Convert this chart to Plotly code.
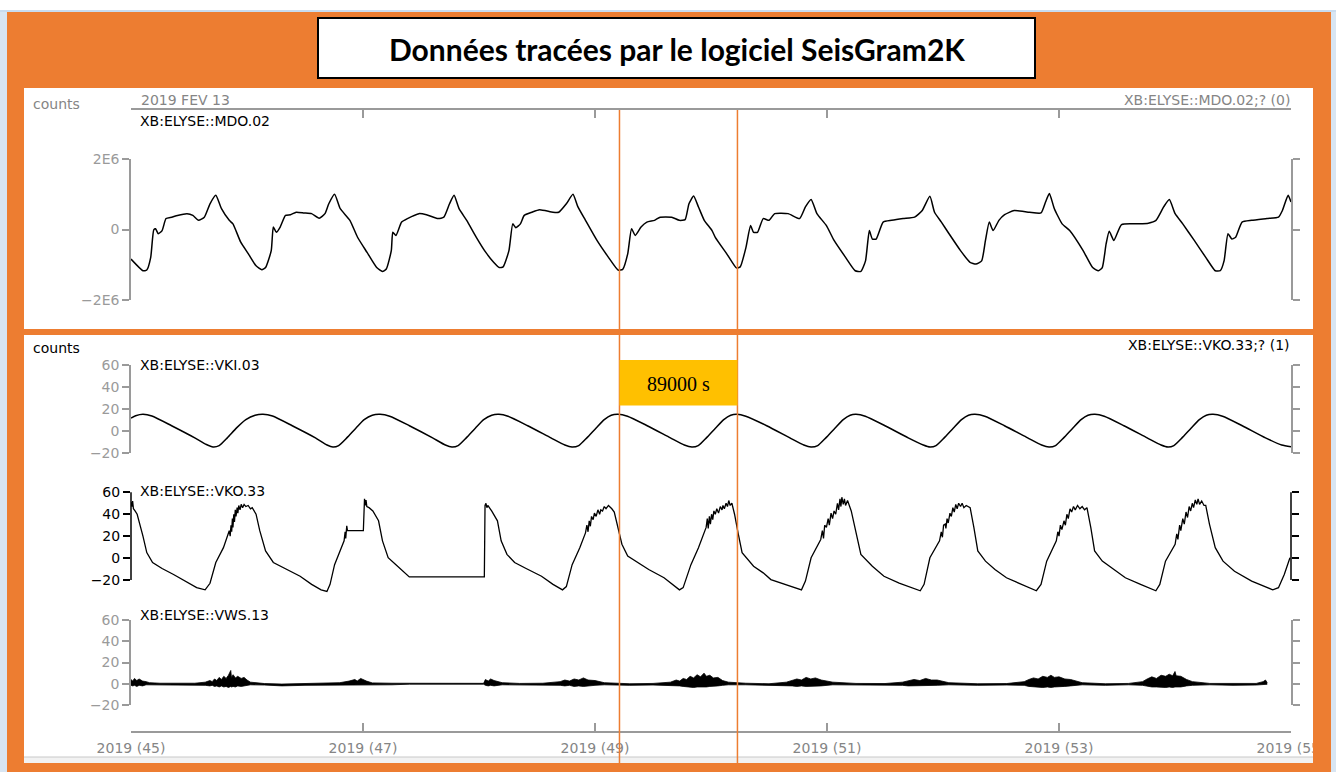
import plotly.graph_objects as go

# ---------------- DATA ----------------
# time axis: day of year 2019
day_ticks = [45, 47, 49, 51, 53, 55]
day_tick_labels = ["2019 (45)", "2019 (47)", "2019 (49)", "2019 (51)", "2019 (53)", "2019 (55)"]

# XB:ELYSE::MDO.02  (values in millions of counts)
mdo_t = [45.000, 45.103, 45.136, 45.170, 45.196, 45.212, 45.235, 45.268, 45.302, 45.351, 45.401, 45.483, 45.533,
         45.582, 45.632, 45.681, 45.731, 45.780, 45.847, 45.879, 45.946, 46.012, 46.078, 46.128, 46.160, 46.209,
         46.227, 46.253, 46.286, 46.332, 46.375, 46.424, 46.491, 46.557, 46.622, 46.672, 46.705, 46.755, 46.804,
         46.887, 46.953, 47.035, 47.118, 47.168, 47.201, 47.244, 47.257, 47.284, 47.333, 47.383, 47.482, 47.547,
         47.647, 47.697, 47.746, 47.785, 47.828, 47.894, 47.977, 48.059, 48.126, 48.175, 48.208, 48.258, 48.291,
         48.317, 48.357, 48.390, 48.456, 48.522, 48.638, 48.687, 48.753, 48.810, 48.853, 48.918, 49.017, 49.116,
         49.199, 49.239, 49.282, 49.315, 49.347, 49.397, 49.447, 49.513, 49.562, 49.661, 49.727, 49.777, 49.810,
         49.850, 49.892, 49.942, 50.009, 50.037, 50.136, 50.219, 50.252, 50.302, 50.341, 50.367, 50.401, 50.450,
         50.500, 50.549, 50.665, 50.764, 50.814, 50.863, 50.913, 50.995, 51.061, 51.160, 51.243, 51.292, 51.332,
         51.365, 51.391, 51.424, 51.484, 51.557, 51.656, 51.755, 51.821, 51.887, 51.927, 51.986, 52.052, 52.151,
         52.233, 52.284, 52.333, 52.366, 52.399, 52.432, 52.482, 52.531, 52.614, 52.746, 52.845, 52.884, 52.917,
         52.960, 53.027, 53.092, 53.208, 53.290, 53.340, 53.373, 53.406, 53.433, 53.473, 53.539, 53.671, 53.770,
         53.836, 53.902, 53.951, 54.001, 54.067, 54.166, 54.265, 54.347, 54.390, 54.423, 54.457, 54.490, 54.523,
         54.578, 54.661, 54.793, 54.892, 54.926, 54.975, 55.000]
mdo_v = [-0.84, -1.17, -1.15, -0.79, -0.01, 0.02, -0.12, -0.03, 0.31, 0.35, 0.40, 0.45, 0.40,
         0.26, 0.35, 0.73, 0.97, 0.59, 0.26, 0.16, -0.36, -0.69, -1.03, -1.14, -1.08, -0.60,
         0.07, -0.08, 0.07, 0.40, 0.42, 0.49, 0.47, 0.45, 0.32, 0.45, 0.73, 1.00, 0.59,
         0.26, -0.22, -0.65, -1.08, -1.19, -1.12, -0.60, -0.08, -0.17, 0.21, 0.31, 0.45, 0.42,
         0.31, 0.35, 0.73, 0.97, 0.59, 0.26, -0.22, -0.65, -0.93, -1.08, -1.06, -0.60, 0.16,
         0.05, 0.16, 0.40, 0.49, 0.56, 0.49, 0.49, 0.73, 1.00, 0.64, 0.26, -0.31, -0.79,
         -1.15, -1.13, -0.69, 0.02, -0.17, 0.07, 0.21, 0.26, 0.35, 0.35, 0.26, 0.28, 0.73,
         0.95, 0.64, 0.26, -0.03, -0.22, -0.69, -1.09, -1.06, -0.50, 0.11, -0.08, -0.08, 0.31,
         0.26, 0.45, 0.45, 0.31, 0.64, 0.85, 0.45, 0.11, -0.31, -0.79, -1.17, -1.19, -0.89,
         -0.03, -0.27, -0.27, 0.21, 0.26, 0.31, 0.35, 0.54, 0.94, 0.49, 0.21, -0.12, -0.60,
         -0.93, -0.98, -0.89, -0.31, 0.21, -0.03, 0.26, 0.42, 0.54, 0.49, 0.47, 0.78, 1.02,
         0.59, 0.16, -0.03, -0.60, -1.08, -1.17, -1.08, -0.41, -0.05, -0.31, 0.14, 0.16, 0.18,
         0.26, 0.64, 0.85, 0.45, 0.16, -0.31, -0.79, -1.17, -1.17, -0.89, -0.12, -0.27, -0.22,
         0.21, 0.26, 0.31, 0.35, 0.54, 0.97, 0.78]

# XB:ELYSE::VKI.03
vki_t = [45.000, 45.040, 45.103, 45.180, 45.350, 45.550, 45.650, 45.707, 45.760, 45.830, 45.910, 45.990, 46.070,
         46.138, 46.220, 46.390, 46.590, 46.690, 46.741, 46.790, 46.860, 46.940, 47.010, 47.080, 47.147, 47.230,
         47.400, 47.600, 47.710, 47.767, 47.820, 47.890, 47.970, 48.040, 48.110, 48.172, 48.250, 48.420, 48.620,
         48.740, 48.802, 48.860, 48.930, 49.010, 49.080, 49.140, 49.198, 49.280, 49.450, 49.650, 49.770, 49.836,
         49.890, 49.960, 50.040, 50.110, 50.170, 50.224, 50.300, 50.480, 50.680, 50.800, 50.862, 50.920, 50.990,
         51.070, 51.140, 51.200, 51.250, 51.330, 51.500, 51.700, 51.830, 51.888, 51.940, 52.010, 52.090, 52.160,
         52.220, 52.276, 52.360, 52.530, 52.730, 52.850, 52.914, 52.970, 53.040, 53.120, 53.190, 53.250, 53.310,
         53.390, 53.560, 53.760, 53.880, 53.940, 53.990, 54.060, 54.140, 54.210, 54.270, 54.328, 54.410, 54.580,
         54.780, 54.920, 55.000]
vki_v = [12.0, 14.0, 15.3, 13.8, 5.0, -6.0, -12.0, -14.2, -13.0, -6.0, 3.0, 10.5, 14.5,
         15.4, 13.8, 5.0, -6.0, -12.5, -14.3, -13.0, -6.0, 3.0, 10.5, 14.5, 15.3, 13.6,
         5.0, -6.0, -12.5, -14.3, -13.0, -6.0, 3.0, 10.5, 14.5, 15.3, 13.6, 5.0, -6.0,
         -12.5, -14.3, -13.0, -6.0, 3.0, 10.5, 14.5, 15.4, 13.6, 5.0, -6.0, -12.5, -14.3,
         -13.0, -6.0, 3.0, 10.5, 14.5, 15.4, 13.6, 5.0, -6.0, -12.5, -14.3, -13.0, -6.0,
         3.0, 10.5, 14.5, 15.3, 13.6, 5.0, -6.0, -12.5, -14.3, -13.0, -6.0, 3.0, 10.5,
         14.5, 15.3, 13.6, 5.0, -6.0, -12.5, -14.3, -13.0, -6.0, 3.0, 10.5, 14.5, 15.4,
         13.6, 5.0, -6.0, -12.5, -14.3, -13.0, -6.0, 3.0, 10.5, 14.5, 15.3, 13.6, 5.0,
         -6.0, -12.5, -14.0]

# XB:ELYSE::VKO.33
vko_t = [45.000, 45.008, 45.014, 45.021, 45.035, 45.053, 45.103, 45.136, 45.186, 45.268, 45.367, 45.466, 45.566,
         45.639, 45.681, 45.731, 45.797, 45.847, 45.855, 45.862, 45.868, 45.874, 45.879, 45.886, 45.892, 45.899,
         45.905, 45.915, 45.921, 45.929, 45.940, 45.950, 45.962, 45.975, 45.990, 46.010, 46.030, 46.045, 46.078,
         46.110, 46.160, 46.227, 46.326, 46.458, 46.557, 46.639, 46.689, 46.716, 46.755, 46.804, 46.837, 46.846,
         46.851, 46.860, 46.866, 47.003, 47.013, 47.020, 47.026, 47.033, 47.052, 47.085, 47.134, 47.168, 47.217,
         47.284, 47.349, 47.399, 48.046, 48.052, 48.060, 48.068, 48.076, 48.109, 48.159, 48.191, 48.241, 48.307,
         48.406, 48.539, 48.638, 48.720, 48.753, 48.803, 48.869, 48.918, 48.930, 48.940, 48.950, 48.960, 48.970,
         48.984, 48.995, 49.010, 49.025, 49.040, 49.050, 49.065, 49.080, 49.095, 49.116, 49.130, 49.145, 49.166,
         49.199, 49.232, 49.282, 49.364, 49.463, 49.595, 49.728, 49.760, 49.827, 49.892, 49.958, 49.968, 49.976,
         49.986, 49.995, 50.005, 50.015, 50.025, 50.037, 50.050, 50.065, 50.080, 50.095, 50.103, 50.115, 50.130,
         50.142, 50.153, 50.165, 50.180, 50.203, 50.235, 50.268, 50.367, 50.450, 50.516, 50.632, 50.780, 50.814,
         50.863, 50.946, 50.960, 50.970, 50.980, 50.995, 51.010, 51.020, 51.035, 51.048, 51.061, 51.075, 51.090,
         51.100, 51.112, 51.120, 51.128, 51.140, 51.150, 51.160, 51.177, 51.209, 51.259, 51.292, 51.391, 51.491,
         51.622, 51.804, 51.837, 51.887, 51.970, 51.985, 51.995, 52.005, 52.019, 52.025, 52.035, 52.045, 52.060,
         52.072, 52.085, 52.097, 52.110, 52.122, 52.135, 52.151, 52.165, 52.180, 52.200, 52.234, 52.266, 52.300,
         52.366, 52.448, 52.547, 52.679, 52.805, 52.845, 52.894, 52.977, 52.990, 53.000, 53.012, 53.025, 53.043,
         53.055, 53.068, 53.080, 53.095, 53.109, 53.125, 53.140, 53.160, 53.180, 53.200, 53.220, 53.241, 53.274,
         53.307, 53.373, 53.456, 53.572, 53.703, 53.835, 53.869, 53.918, 54.001, 54.015, 54.025, 54.040, 54.050,
         54.067, 54.080, 54.095, 54.108, 54.122, 54.135, 54.149, 54.160, 54.175, 54.188, 54.199, 54.212, 54.230,
         54.250, 54.265, 54.297, 54.347, 54.414, 54.513, 54.661, 54.843, 54.892, 54.942, 54.991]
vko_v = [51, 47, 52, 45, 43, 40, 20, 5, -4, -9.5, -15, -21, -27,
         -29, -23, -4, 9.5, 25, 20, 30, 24, 36, 28, 40, 33, 44,
         38, 46, 41, 48, 44, 49, 46, 49, 47, 48, 45, 46, 40,
         25, 6.5, -4, -9.5, -16.6, -24, -29, -30.4, -24, -6, 6.5, 15.7, 24,
         18, 29.5, 25, 25, 54, 48, 53, 47, 46, 43, 34, 15.7, 0.3,
         -6, -12, -17.2, -17.2, 48, 50, 46, 48, 43, 34, 15.7, 3.4, -4,
         -9.5, -16.6, -24, -29, -26, -6, 9.5, 23, 30, 24, 34, 29, 38,
         35, 41, 38, 44, 40, 44, 43, 47, 45, 48, 46, 45, 42,
         28, 12.6, 1.8, -4, -10.4, -18, -29, -27, -6, 9.5, 28, 36, 27,
         38, 31, 40, 35, 43, 40, 45, 41, 47, 44, 48, 45, 50,
         47, 52.5, 48, 50, 40, 22, 5, -7.4, -13.5, -19.6, -24, -29, -21,
         0.3, 17, 25, 18, 30, 28, 36, 30, 41, 36, 43, 40, 50,
         44, 54, 47, 55.5, 49, 54, 48, 52.5, 43, 18.7, 3.4, -7.4, -16.6,
         -22.8, -29.8, -24, 0.3, 15.7, 24, 19, 30, 31, 27, 36, 32, 41,
         38, 46, 42, 49, 45, 50, 47, 50, 46, 48, 46, 28, 6.5,
         -2.8, -10.4, -18, -24, -29.8, -24, -2.8, 15.7, 24, 20, 30, 26, 34,
         30, 40, 36, 45, 42, 47, 44, 48, 45, 47, 44, 46, 28,
         6.5, -2.8, -9, -18, -24, -29.8, -24, -2.8, 12.6, 22, 17, 30, 25,
         36, 31, 42, 37, 47, 43, 50, 46, 53, 49, 54, 49, 52,
         48, 48, 31, 9.5, -2.8, -12, -21, -29, -27, -15, 0.3]

# XB:ELYSE::VWS.13 : upper / lower envelope of the trace
vws_t = [45.000, 45.015, 45.030, 45.050, 45.070, 45.100, 45.130, 45.160, 45.250, 45.400, 45.550,
         45.640, 45.680, 45.700, 45.720, 45.740, 45.760, 45.780, 45.800, 45.820, 45.840, 45.860, 45.866,
         45.880, 45.900, 45.920, 45.950, 45.975, 46.000, 46.030, 46.150, 46.300, 46.500, 46.700,
         46.800, 46.880, 46.930, 46.950, 46.980, 47.030, 47.080, 47.250, 47.400, 48.040,
         48.055, 48.080, 48.100, 48.130, 48.200, 48.350, 48.550,
         48.700, 48.740, 48.780, 48.820, 48.860, 48.900, 48.940, 49.000, 49.080, 49.300, 49.500,
         49.650, 49.700, 49.730, 49.760, 49.790, 49.820, 49.850, 49.880, 49.910, 49.940, 49.960, 49.990,
         50.020, 50.060, 50.100, 50.150, 50.300, 50.500,
         50.650, 50.700, 50.740, 50.780, 50.820, 50.860, 50.900, 50.950, 51.050, 51.250, 51.500,
         51.650, 51.700, 51.750, 51.800, 51.850, 51.900, 51.950, 52.050, 52.300, 52.550,
         52.700, 52.740, 52.780, 52.820, 52.860, 52.900, 52.930, 52.960, 53.000, 53.050, 53.100, 53.200,
         53.400, 53.600,
         53.720, 53.760, 53.800, 53.840, 53.880, 53.920, 53.950, 53.980, 54.000, 54.010, 54.050, 54.100,
         54.150, 54.300, 54.500, 54.700, 54.760, 54.780, 54.795]
vws_hi = [4.0, 2.5, 5.0, 3.0, 4.5, 2.5, 2.0, 1.0, 0.5, 0.2, 0.5,
          1.5, 3.0, 2.0, 4.5, 3.0, 6.0, 4.0, 7.0, 5.0, 8.0, 12.5, 6.0,
          8.5, 5.5, 7.0, 5.0, 6.0, 3.5, 1.5, 0.2, -0.3, 0.0, 0.5,
          1.0, 2.5, 4.0, 2.5, 5.0, 2.5, 0.8, 0.5, 0.4, 0.4,
          4.0, 2.5, 4.5, 3.0, 1.0, 0.3, 0.5,
          2.0, 3.5, 2.5, 4.5, 3.5, 5.5, 3.5, 3.0, 1.0, 0.0, 0.3,
          1.5, 3.5, 2.5, 5.0, 4.0, 7.0, 5.5, 8.5, 6.5, 10.0, 7.0, 8.0,
          5.5, 6.0, 3.0, 1.5, 0.5, 0.0,
          1.5, 3.0, 4.5, 3.5, 6.0, 4.5, 5.5, 3.5, 1.5, 0.3, 0.2,
          1.5, 3.0, 4.0, 3.0, 5.0, 3.5, 3.5, 1.0, 0.0, 0.2,
          2.0, 4.0, 5.5, 4.5, 7.0, 6.0, 8.0, 6.0, 6.5, 4.5, 4.0, 1.0,
          0.0, 0.3,
          2.0, 4.5, 6.5, 5.0, 8.0, 7.0, 9.0, 7.5, 11.5, 7.5, 7.0, 4.0,
          2.0, 0.3, 0.0, 0.3, 2.0, 3.5, 1.0]
vws_lo = [-1.5, -2.0, -1.5, -2.5, -1.5, -2.0, -1.0, -1.0, -0.8, -1.0, -1.0,
          -1.5, -2.0, -1.5, -2.5, -2.0, -3.0, -2.0, -3.0, -2.5, -3.5, -2.5, -3.0,
          -2.5, -3.0, -2.0, -2.5, -2.0, -1.5, -1.0, -1.2, -2.0, -1.5, -1.5,
          -1.0, -1.5, -1.5, -1.5, -1.5, -1.0, -0.8, -1.0, -0.4, -0.4,
          -1.5, -2.0, -1.5, -2.0, -1.0, -1.0, -1.0,
          -1.5, -2.0, -1.5, -2.5, -2.0, -2.5, -2.0, -1.5, -1.0, -1.5, -1.2,
          -1.5, -2.0, -2.0, -2.5, -3.0, -3.0, -3.5, -3.0, -3.0, -3.5, -3.0, -2.5,
          -2.5, -2.0, -1.5, -1.0, -1.0, -1.5,
          -1.5, -2.0, -2.5, -2.0, -2.5, -2.5, -2.0, -2.0, -1.0, -1.0, -1.5,
          -1.5, -2.0, -2.0, -2.0, -2.0, -2.0, -1.5, -1.0, -1.5, -1.2,
          -1.5, -2.5, -3.0, -3.0, -3.5, -3.0, -3.5, -3.0, -3.0, -2.5, -2.0, -1.0,
          -1.5, -1.0,
          -1.5, -2.5, -3.0, -3.0, -3.5, -3.5, -3.0, -3.5, -3.0, -3.0, -3.0, -2.0,
          -1.5, -1.0, -1.5, -1.2, -1.0, -1.0, -0.5]

# two picked times (days) bracketing one sol
pick_days = [49.211, 50.228]
pick_label = "89000 s"

small_ticks = [-20, 0, 20, 40, 60]
mdo_ticks = [-2e6, 0, 2e6]
mdo_tick_labels = ["\u22122E6", "0", "2E6"]

# ---------------- LAYOUT HELPERS ----------------
W, H = 1336, 772
def px(x):
    return x / W
def py(y):
    return 1 - y / H

ORANGE = "#ED7D31"
GRAY = "#858585"
AXGRAY = "#9a9a9a"
FONT = "DejaVu Sans"
XDOM = [px(131), px(1291)]
XR = [45, 55]

fig = go.Figure()
fig.add_trace(go.Scatter(x=mdo_t, y=[v * 1e6 for v in mdo_v], xaxis="x", yaxis="y", mode="lines",
                         line=dict(color="black", width=1.5, shape="spline", smoothing=0.5)))
fig.add_trace(go.Scatter(x=vki_t, y=vki_v, xaxis="x2", yaxis="y2", mode="lines",
                         line=dict(color="black", width=1.5, shape="spline", smoothing=0.6)))
fig.add_trace(go.Scatter(x=vko_t, y=vko_v, xaxis="x3", yaxis="y3", mode="lines", line=dict(color="black", width=1.3)))
fig.add_trace(go.Scatter(x=vws_t, y=vws_lo, xaxis="x4", yaxis="y4", mode="lines", line=dict(color="black", width=0.8)))
fig.add_trace(go.Scatter(x=vws_t, y=vws_hi, xaxis="x4", yaxis="y4", mode="lines", fill="tonexty",
                         fillcolor="black", line=dict(color="black", width=0.8)))

def yax(domain, rng, tickvals, color, ticktext=None, showline=True):
    d = dict(domain=domain, range=rng, tickvals=tickvals, ticks="outside", ticklen=7, tickwidth=1.5,
             tickcolor=color, showline=showline, linecolor=color, linewidth=1.5, mirror="ticks",
             showgrid=False, zeroline=False, tickfont=dict(family=FONT, size=14, color=color),
             fixedrange=True, automargin=False)
    if ticktext is not None:
        d["ticktext"] = ticktext
    return d

layout = dict(
    width=W, height=H, autosize=False,
    margin=dict(l=0, r=0, t=0, b=0, pad=0, autoexpand=False),
    paper_bgcolor="white", plot_bgcolor="rgba(0,0,0,0)", showlegend=False,
    font=dict(family=FONT),
    xaxis=dict(domain=XDOM, range=XR, anchor="free", position=py(109), side="top", showline=True,
               linecolor=AXGRAY, linewidth=1.5, ticks="inside", ticklen=8, tickwidth=1.5, tickcolor=AXGRAY,
               tickvals=day_ticks, showticklabels=False, showgrid=False, zeroline=False, automargin=False),
    xaxis2=dict(domain=XDOM, range=XR, anchor="y2", visible=False, automargin=False),
    xaxis3=dict(domain=XDOM, range=XR, anchor="y3", visible=False, automargin=False),
    xaxis4=dict(domain=XDOM, range=XR, anchor="free", position=py(732), side="bottom", showline=True,
                linecolor=AXGRAY, linewidth=1.5, ticks="inside", ticklen=8, tickwidth=1.5, tickcolor=AXGRAY,
                tickvals=day_ticks, ticktext=day_tick_labels, showgrid=False, zeroline=False,
                tickfont=dict(family=FONT, size=14, color=GRAY), ticklabelstandoff=3, automargin=False),
    yaxis=dict(anchor="x", **yax([py(300), py(159)], [-2e6, 2e6], mdo_ticks, AXGRAY, mdo_tick_labels)),
    yaxis2=dict(anchor="x2", **yax([py(453.3), py(365)], [-20, 60], small_ticks, AXGRAY)),
    yaxis3=dict(anchor="x3", **yax([py(596.44), py(490.11)], [-35, 62], small_ticks, "black", showline=False)),
    yaxis4=dict(anchor="x4", **yax([py(705), py(620)], [-20, 60], small_ticks, AXGRAY)),
)
fig.update_layout(**layout)

shapes = []
def prect(x0, y0, x1, y1, color, layer="below", line=None):
    shapes.append(dict(type="rect", xref="paper", yref="paper", x0=px(x0), x1=px(x1), y0=py(y1), y1=py(y0),
                       fillcolor=color, line=line or dict(width=0), layer=layer))

prect(0, 0, 1336, 772, "white")
prect(0, 10, 1336, 12, "#c9dcef")
prect(0, 12, 7, 772, "#d8e5f2")
prect(7, 12, 1331, 772, ORANGE)
prect(1331, 12, 1336, 772, "#d8e5f2")
prect(24, 88, 1313, 329, "white")
prect(24, 335, 1313, 763, "white")
prect(24, 757, 1313, 763, "#f2f2f2")
shapes.append(dict(type="line", xref="paper", yref="paper", x0=px(24), x1=px(1313), y0=py(757), y1=py(757),
                   line=dict(color="#c8c8c8", width=1), layer="below"))
# title box
prect(318, 18, 1035, 78, "white", layer="above", line=dict(color="black", width=2))
# orange border clipping the last time label
prect(1313, 700, 1331, 772, ORANGE, layer="above")
# VKO axis lines (range extended so the trace is not clipped)
for xp in (131, 1291):
    shapes.append(dict(type="line", xref="paper", yref="y3", x0=px(xp), x1=px(xp), y0=-20, y1=60,
                       line=dict(color="black", width=1.5), layer="above"))
# picked times
for d in pick_days:
    shapes.append(dict(type="line", xref="x", yref="paper", x0=d, x1=d, y0=py(763), y1=py(110),
                       line=dict(color=ORANGE, width=1.5), layer="above"))
shapes.append(dict(type="rect", xref="x", yref="paper", x0=pick_days[0], x1=pick_days[1], y0=py(405.5),
                   y1=py(360), fillcolor="#FFC000", line=dict(width=0), layer="above"))
fig.update_layout(shapes=shapes)

def ann(text, x, y, xanchor="left", color="black", size=14, family=FONT, xref="paper"):
    return dict(text=text, x=x, y=y, xref=xref, yref="paper", xanchor=xanchor, yanchor="middle",
                showarrow=False, font=dict(family=family, size=size, color=color))

annotations = [
    ann("<b>Données tracées par le logiciel SeisGram2K</b>", px(676.5), py(49), "center", "black", 30, "Lato"),
    ann("counts", px(31), py(104), color=GRAY),
    ann("2019 FEV 13", px(139), py(100), color=GRAY),
    ann("XB:ELYSE::MDO.02;? (0)", px(1292), py(100), "right", GRAY),
    ann("XB:ELYSE::MDO.02", px(138), py(121)),
    ann("counts", px(31), py(348)),
    ann("XB:ELYSE::VKO.33;? (1)", px(1292), py(345), "right"),
    ann("XB:ELYSE::VKI.03", px(138), py(365)),
    ann("XB:ELYSE::VKO.33", px(138), py(491)),
    ann("XB:ELYSE::VWS.13", px(138), py(615)),
    ann(pick_label, (pick_days[0] + pick_days[1]) / 2, py(384), "center", "black", 20, "Liberation Serif", "x"),
]
fig.update_layout(annotations=annotations)

fig.write_html("out.html", config={"responsive": False, "displayModeBar": False},
               post_script="document.body.style.margin='0px';document.body.style.overflow='hidden';")
